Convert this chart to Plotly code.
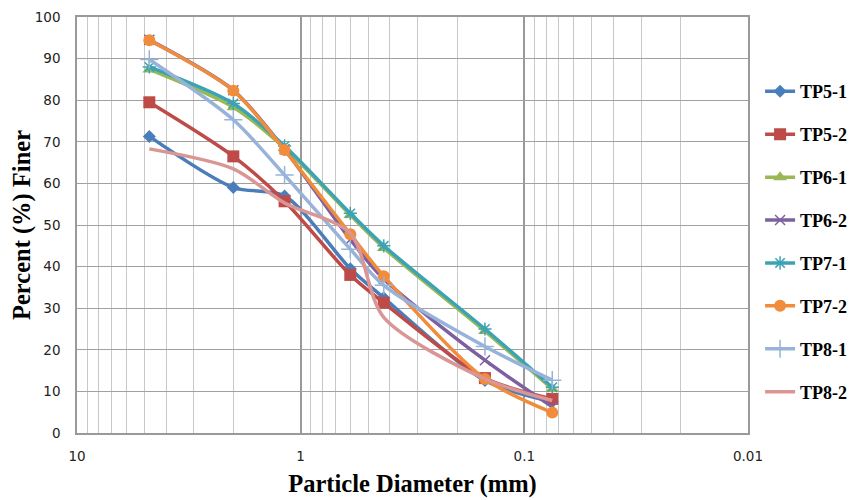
import plotly.graph_objects as go

# Sieve sizes (mm)
diameters = [4.75, 2.0, 1.18, 0.6, 0.425, 0.15, 0.075]

series_names = ["TP5-1", "TP5-2", "TP6-1", "TP6-2", "TP7-1", "TP7-2", "TP8-1", "TP8-2"]
tp5_1 = [71.3, 59.0, 57.0, 39.5, 32.5, 12.6, 7.5]
tp5_2 = [79.5, 66.5, 55.7, 38.0, 31.3, 13.2, 8.2]
tp6_1 = [87.4, 78.3, 68.5, 52.4, 44.5, 24.5, 10.6]
tp6_2 = [94.5, 82.4, 68.2, 46.5, 37.0, 17.5, 6.3]
tp7_1 = [88.0, 79.2, 69.0, 52.8, 45.0, 25.0, 11.0]
tp7_2 = [94.4, 82.3, 68.0, 47.8, 37.7, 13.0, 4.9]
tp8_1 = [89.8, 75.3, 62.0, 44.2, 35.5, 20.8, 12.7]
tp8_2 = [68.3, 63.5, 55.3, 48.0, 27.8, 13.0, 7.8]

values = [tp5_1, tp5_2, tp6_1, tp6_2, tp7_1, tp7_2, tp8_1, tp8_2]
colors = ["#4A7EBB", "#BE4B48", "#98B954", "#7D60A0", "#3BA3B3", "#F08C3C", "#98B3DA", "#DA9694"]
symbols = ["diamond", "square", "triangle-up", "x-thin", "asterisk", "circle", "cross-thin", None]
sizes = [10, 12, 12, 10, 11, 12, 13, 0]

x_tickvals = [10, 1, 0.1, 0.01]
x_ticktext = ["10", "1", "0.1", "0.01"]

fig = go.Figure()
for i, (name, vals) in enumerate(zip(series_names, values)):
    sym = symbols[i]
    if sym is None:
        mode = "lines"
        marker = dict()
    else:
        mode = "lines+markers"
        if sym in ("x-thin", "asterisk", "cross-thin"):
            marker = dict(symbol=sym, size=sizes[i], color=colors[i],
                          line=dict(color=colors[i], width=1.5))
        else:
            marker = dict(symbol=sym, size=sizes[i], color=colors[i],
                          line=dict(width=0))
    fig.add_trace(go.Scatter(
        x=diameters, y=vals, name=name, mode=mode,
        line=dict(color=colors[i], width=3.5, shape="spline", smoothing=0.8),
        marker=marker, legendgroup=name,
    ))

minor_vals = []
for dec in [1.0, 0.1, 0.01]:
    for k in range(2, 10):
        minor_vals.append(dec * k)

fig.update_xaxes(
    type="log", range=[1, -2], automargin=False,
    tickmode="array", tickvals=x_tickvals, ticktext=x_ticktext,
    showgrid=True, gridcolor="#9A9A9A", gridwidth=1.5,
    minor=dict(tickmode="array", tickvals=minor_vals, showgrid=True,
               gridcolor="#C8C8C8", gridwidth=1.2, ticks=""),
    showline=True, linecolor="#9A9A9A", linewidth=1.5, mirror=True,
    ticks="", ticklabelstandoff=10,
    tickfont=dict(family="DejaVu Sans", size=13.5, color="#222"),
    title=dict(text="Particle Diameter (mm)", standoff=12,
               font=dict(family="Liberation Serif", size=24.5, color="#000", weight="bold")),
    zeroline=False,
)
fig.update_yaxes(
    range=[0, 100], dtick=10, tick0=0, automargin=False,
    showgrid=True, gridcolor="#A0A0A0", gridwidth=1.2,
    showline=True, linecolor="#9A9A9A", linewidth=1.5, mirror=True,
    ticks="", ticklabelstandoff=12,
    tickfont=dict(family="DejaVu Sans", size=13.5, color="#222"),
    title=dict(text="Percent (%) Finer", standoff=12,
               font=dict(family="Liberation Serif", size=24.5, color="#000", weight="bold")),
    zeroline=False,
)
fig.update_layout(
    width=853, height=492,
    margin=dict(l=69, r=113, t=9, b=67),
    paper_bgcolor="white", plot_bgcolor="white",
    legend=dict(x=1.018, y=0.865, xanchor="left", yanchor="top",
                font=dict(family="Liberation Serif", size=18, color="#000", weight="bold"),
                tracegroupgap=16.5, traceorder="grouped", itemwidth=30,
                bgcolor="rgba(0,0,0,0)"),
    showlegend=True,
)

fig.write_html("out.html")
